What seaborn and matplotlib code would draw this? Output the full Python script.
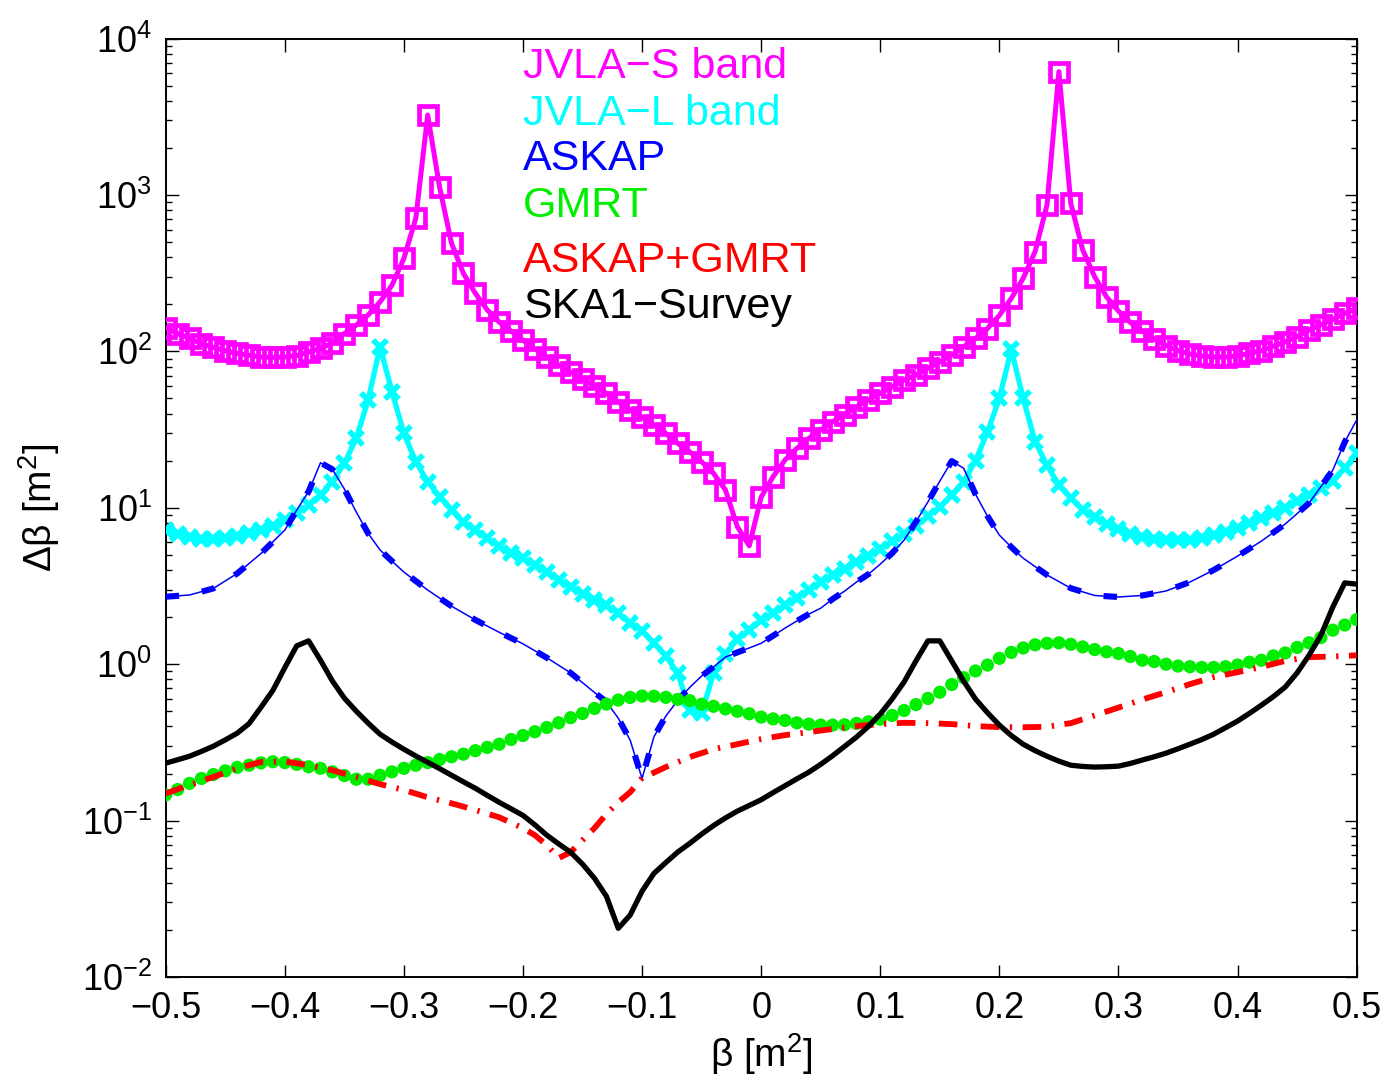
import numpy as np
import matplotlib
matplotlib.use("Agg")
import matplotlib.pyplot as plt
import seaborn as sns
from matplotlib.ticker import LogLocator, NullFormatter, FixedLocator, FixedFormatter

# ---------------------------------------------------------------------------
# Data: uncertainty of the Faraday-depth parameter beta for several arrays
# ---------------------------------------------------------------------------
beta = np.round(np.arange(-50, 51) / 100.0, 2)

jvla_s = [142, 130, 121, 112, 106, 101, 97, 94.6, 92, 91.6,
          92, 94, 99, 104.5, 113, 130, 147, 171, 207, 265,
          393, 709, 3240, 1120, 491, 315, 235, 184, 154, 135,
          118, 103.5, 92, 81.7, 73.7, 66.5, 60, 53.9, 47.6, 42.2,
          37.9, 33.8, 29.9, 25.8, 22.8, 19.7, 16.6, 13.0, 7.57, 5.71,
          11.7, 15.8, 20.2, 24.0, 27.8, 31.4, 35.5, 39.2, 44.3, 48.9,
          53.9, 59.4, 65.6, 70.5, 77.8, 85.8, 94.6, 107, 121, 140,
          170, 218, 293, 434, 861, 6140, 883, 445, 300, 223,
          181, 153, 135, 120, 109, 101, 96.1, 93.3, 92.0, 92.0,
          93.8, 97.1, 101, 108, 115, 124, 137, 148, 160, 175,
          188]

jvla_l = [7.2, 6.79, 6.53, 6.34, 6.28, 6.37, 6.59, 6.85, 7.2, 7.64,
          8.34, 9.2, 10.4, 12.1, 14.7, 19.2, 27.8, 48.9, 107, 55.2,
          29.9, 19.7, 14.7, 11.8, 9.67, 8.14, 7.2, 6.37, 5.69, 5.11,
          4.75, 4.30, 3.90, 3.45, 3.13, 2.83, 2.57, 2.39, 2.11, 1.84,
          1.64, 1.36, 1.13, 0.873, 0.509, 0.485, 0.873, 1.17, 1.44, 1.65,
          1.91, 2.11, 2.39, 2.65, 2.98, 3.35, 3.70, 4.08, 4.50, 4.93,
          5.45, 6.10, 6.79, 7.64, 8.85, 10.1, 12.1, 14.7, 20.0, 30.5,
          50, 103, 50, 26.5, 18.7, 14.0, 11.6, 9.69, 8.69, 7.84,
          7.28, 6.79, 6.50, 6.31, 6.22, 6.22, 6.22, 6.38, 6.67, 7.00,
          7.39, 7.95, 8.56, 9.21, 10.0, 11.0, 12.1, 13.4, 14.9, 17.9,
          22.3]

gmrt = [0.146, 0.158, 0.173, 0.186, 0.197, 0.208, 0.219, 0.226, 0.234, 0.238,
        0.235, 0.229, 0.221, 0.216, 0.205, 0.194, 0.184, 0.184, 0.195, 0.205,
        0.216, 0.226, 0.235, 0.246, 0.256, 0.266, 0.280, 0.294, 0.308, 0.330,
        0.350, 0.370, 0.394, 0.422, 0.455, 0.484, 0.521, 0.556, 0.590, 0.613,
        0.626, 0.624, 0.614, 0.596, 0.585, 0.555, 0.538, 0.518, 0.500, 0.482,
        0.459, 0.447, 0.437, 0.422, 0.414, 0.408, 0.408, 0.410, 0.418, 0.428,
        0.445, 0.470, 0.506, 0.552, 0.604, 0.662, 0.741, 0.820, 0.905, 0.987,
        1.09, 1.19, 1.27, 1.33, 1.36, 1.37, 1.34, 1.29, 1.24, 1.20,
        1.17, 1.12, 1.06, 1.04, 1.00, 0.973, 0.964, 0.954, 0.954, 0.964,
        0.988, 1.03, 1.06, 1.13, 1.18, 1.28, 1.37, 1.48, 1.65, 1.78,
        1.93]

ska1 = [0.233, 0.245, 0.258, 0.277, 0.299, 0.328, 0.362, 0.417, 0.530, 0.680,
        0.95, 1.31, 1.41, 1.06, 0.780, 0.607, 0.501, 0.420, 0.357, 0.318,
        0.286, 0.259, 0.236, 0.215, 0.195, 0.177, 0.161, 0.145, 0.131, 0.119,
        0.108, 0.094, 0.0807, 0.071, 0.0628, 0.0527, 0.0428, 0.0329, 0.0205, 0.0249,
        0.0354, 0.046, 0.054, 0.063, 0.0715, 0.082, 0.093, 0.104, 0.115, 0.125,
        0.136, 0.151, 0.167, 0.185, 0.204, 0.229, 0.26, 0.298, 0.342, 0.400,
        0.48, 0.60, 0.77, 1.05, 1.41, 1.41, 1.05, 0.78, 0.598, 0.49,
        0.408, 0.350, 0.308, 0.280, 0.258, 0.240, 0.226, 0.222, 0.220, 0.221,
        0.223, 0.232, 0.244, 0.256, 0.270, 0.288, 0.308, 0.330, 0.357, 0.393,
        0.433, 0.485, 0.547, 0.62, 0.714, 0.88, 1.14, 1.53, 2.32, 3.31,
        3.25]

askap_beta = [-0.50, -0.48, -0.46, -0.44, -0.42, -0.40, -0.39, -0.38, -0.37, -0.36,
              -0.35, -0.34, -0.33, -0.32, -0.31, -0.30, -0.28, -0.26, -0.24, -0.22,
              -0.20, -0.18, -0.16, -0.14, -0.13, -0.12, -0.11, -0.10, -0.09, -0.08,
              -0.07, -0.06, -0.05, -0.04, -0.03, -0.02, -0.01, 0.00, 0.01, 0.02,
              0.03, 0.04, 0.05, 0.06, 0.07, 0.08, 0.09, 0.10, 0.11, 0.12,
              0.13, 0.14, 0.15, 0.16, 0.17, 0.18, 0.19, 0.20, 0.21, 0.22,
              0.24, 0.26, 0.28, 0.30, 0.32, 0.34, 0.36, 0.38, 0.40, 0.42,
              0.44, 0.46, 0.48, 0.49, 0.50]
askap = [2.70, 2.77, 3.05, 3.80, 5.10, 7.2, 9.66, 12.7, 19.4, 17.6,
         13.2, 9.40, 6.86, 5.37, 4.56, 3.88, 2.98, 2.35, 1.92, 1.60,
         1.35, 1.10, 0.88, 0.66, 0.575, 0.452, 0.327, 0.186, 0.344, 0.466,
         0.589, 0.71, 0.84, 0.96, 1.11, 1.19, 1.27, 1.36, 1.52, 1.70,
         1.89, 2.09, 2.28, 2.61, 2.93, 3.35, 3.76, 4.36, 5.13, 6.21,
         8.14, 10.9, 14.8, 19.9, 17.9, 12.2, 8.85, 6.69, 5.61, 4.76,
         3.72, 3.06, 2.75, 2.69, 2.75, 2.94, 3.35, 4.00, 4.91, 6.12,
         7.87, 10.7, 17.4, 26.3, 36.4]

combo_beta = [-0.50, -0.48, -0.46, -0.44, -0.42, -0.40, -0.38, -0.36, -0.34, -0.32,
              -0.30, -0.28, -0.26, -0.24, -0.22, -0.20, -0.19, -0.18, -0.17, -0.16,
              -0.15, -0.14, -0.13, -0.12, -0.11, -0.10, -0.08, -0.06, -0.04, -0.02,
              0.00, 0.02, 0.04, 0.06, 0.08, 0.10, 0.12, 0.14, 0.16, 0.18,
              0.20, 0.22, 0.24, 0.26, 0.28, 0.30, 0.32, 0.34, 0.36, 0.38,
              0.40, 0.42, 0.44, 0.46, 0.48, 0.50]
askap_gmrt = [0.149, 0.169, 0.190, 0.216, 0.237, 0.239, 0.226, 0.210, 0.190, 0.171,
              0.157, 0.141, 0.129, 0.117, 0.105, 0.0895, 0.0807, 0.0697, 0.0576, 0.0628,
              0.075, 0.0895, 0.110, 0.131, 0.152, 0.187, 0.22, 0.255, 0.286, 0.308,
              0.332, 0.352, 0.368, 0.385, 0.402, 0.414, 0.422, 0.42, 0.414, 0.402,
              0.396, 0.395, 0.398, 0.42, 0.470, 0.528, 0.594, 0.663, 0.746, 0.827,
              0.889, 0.96, 1.05, 1.11, 1.12, 1.14]

series_labels = ["JVLA\u2212S band", "JVLA\u2212L band", "ASKAP", "GMRT",
                 "ASKAP+GMRT", "SKA1\u2212Survey"]
series_colors = ["#ff00ff", "#00ffff", "#0000ff", "#00ee00", "#ff0000", "#000000"]

xtick_values = [-0.5, -0.4, -0.3, -0.2, -0.1, 0.0, 0.1, 0.2, 0.3, 0.4, 0.5]
xtick_labels = ["\u22120.5", "\u22120.4", "\u22120.3", "\u22120.2", "\u22120.1", "0",
                "0.1", "0.2", "0.3", "0.4", "0.5"]

# ---------------------------------------------------------------------------
sns.set_theme(style="ticks")
plt.rcParams["font.family"] = ["Liberation Sans", "DejaVu Sans"]
plt.rcParams["mathtext.fontset"] = "custom"
plt.rcParams["mathtext.rm"] = "Liberation Sans"
plt.rcParams["mathtext.it"] = "Liberation Sans:italic"
plt.rcParams["mathtext.default"] = "regular"
plt.rcParams["text.color"] = "black"
plt.rcParams["axes.labelcolor"] = "black"

fig = plt.figure(figsize=(13.9, 10.85), dpi=100)
ax = fig.add_axes([0.1192, 0.0995, 0.8568, 0.865])

c_s, c_l, c_a, c_g, c_r, c_k = series_colors

sns.lineplot(x=beta, y=jvla_s, ax=ax, color=c_s, linewidth=3.6, marker="s",
             markersize=12.5, markerfacecolor="none", markeredgecolor=c_s,
             markeredgewidth=3.4, estimator=None, sort=False, zorder=3)
sns.lineplot(x=beta, y=jvla_l, ax=ax, color=c_l, linewidth=3.8, marker="x",
             markersize=10, markeredgecolor=c_l, markeredgewidth=4.0,
             estimator=None, sort=False, zorder=3)
# ASKAP: thin solid trace with a heavy dashed overlay
sns.lineplot(x=askap_beta, y=askap, ax=ax, color=c_a, linewidth=1.1,
             estimator=None, sort=False, zorder=4)
sns.lineplot(x=askap_beta, y=askap, ax=ax, color=c_a, linewidth=4.4,
             linestyle=(0, (2.2, 3.8)), estimator=None, sort=False, zorder=4)
sns.scatterplot(x=beta, y=gmrt, ax=ax, color=c_g, s=90, edgecolor="none",
                linewidth=0, zorder=5)
sns.lineplot(x=combo_beta, y=askap_gmrt, ax=ax, color=c_r, linewidth=4.2,
             linestyle=(0, (3.2, 1.8, 0.4, 1.8)), estimator=None, sort=False,
             zorder=6)
sns.lineplot(x=beta, y=ska1, ax=ax, color=c_k, linewidth=3.8,
             estimator=None, sort=False, zorder=7)

ax.set_yscale("log")
ax.set_xlim(-0.5, 0.5)
ax.set_ylim(1e-2, 1e4)

ax.xaxis.set_major_locator(FixedLocator(xtick_values))
ax.xaxis.set_major_formatter(FixedFormatter(xtick_labels))
ax.yaxis.set_major_locator(LogLocator(base=10, numticks=20))
ax.yaxis.set_minor_locator(LogLocator(base=10, subs=np.arange(2, 10), numticks=100))
ax.yaxis.set_minor_formatter(NullFormatter())

ax.tick_params(axis="both", which="major", direction="in", top=True, right=True,
               length=9, width=1.0, labelsize=26, pad=10, color="black",
               labelcolor="black")
ax.tick_params(axis="y", which="minor", direction="in", left=True, right=True,
               length=4.5, width=1.0, color="black")
for sp in ax.spines.values():
    sp.set_linewidth(1.4)
    sp.set_color("black")

ax.set_xlabel("\u03b2 [m$^{2}$]", fontsize=28, labelpad=4)
ax.set_ylabel("\u0394\u03b2 [m$^{2}$]", fontsize=28, labelpad=14)

# Coloured text legend
legend_y = [0.9576, 0.9078, 0.8599, 0.8101, 0.7515, 0.7018]
for lab, col, yy in zip(series_labels, series_colors, legend_y):
    ax.text(0.3003, yy, lab, color=col, fontsize=31, transform=ax.transAxes,
            ha="left", va="baseline")

fig.savefig("out.png", dpi=100)
